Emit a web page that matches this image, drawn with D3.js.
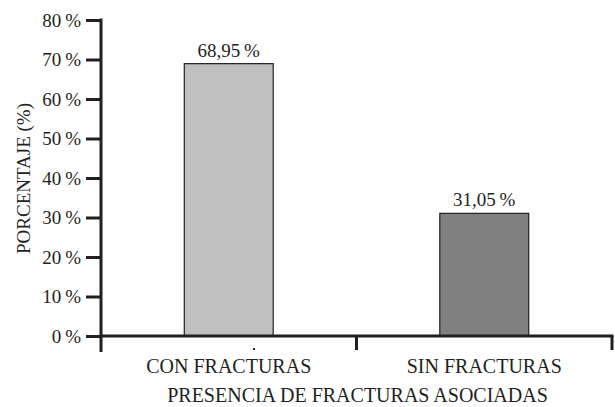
<!DOCTYPE html>
<html>
<head>
<meta charset="utf-8">
<script src="https://cdn.jsdelivr.net/npm/d3@7"></script>
<style>
  html, body { margin: 0; padding: 0; background: #fff; }
  svg { display: block; }
  text { font-family: "Liberation Serif", "Times New Roman", serif; fill: #231f20; }
</style>
</head>
<body>
<svg id="chart" width="615" height="407"></svg>
<script>
// Share of cases by presence of associated fractures
const categories = ["CON FRACTURAS", "SIN FRACTURAS"];
const percentages = [68.95, 31.05];
const barColors = ["#c0c0c0", "#808080"];
const yTicks = [0, 10, 20, 30, 40, 50, 60, 70, 80];
const yTitle = "PORCENTAJE (%)";
const xTitle = "PRESENCIA DE FRACTURAS ASOCIADAS";

const ink = "#231f20";
const fs = 19;
const fsLabel = 20;
const fmtPct = v => d3.format(".2f")(v).replace(".", ",") + "\u2009%";

const svg = d3.select("#chart");
const plotLeft = 101, plotRight = 612, plotTop = 20, plotBottom = 336;

const x = d3.scaleBand().domain(categories).range([plotLeft, plotRight]).padding(0);
const y = d3.scaleLinear().domain([0, 80]).range([plotBottom, plotTop]);

// Bars, centred in each band
const barW = x.bandwidth() * 0.348;
svg.append("g").selectAll("rect")
  .data(categories)
  .join("rect")
  .attr("x", (d) => x(d) + (x.bandwidth() - barW) / 2)
  .attr("y", (d, i) => y(percentages[i]))
  .attr("width", barW)
  .attr("height", (d, i) => y(0) - y(percentages[i]))
  .attr("fill", (d, i) => barColors[i])
  .attr("stroke", ink)
  .attr("stroke-width", 1.2);

// Value labels above bars
svg.append("g").selectAll("text")
  .data(categories)
  .join("text")
  .attr("x", d => x(d) + x.bandwidth() / 2)
  .attr("y", (d, i) => y(percentages[i]) - 7)
  .attr("text-anchor", "middle")
  .attr("font-size", fs)
  .text((d, i) => fmtPct(percentages[i]));

// Y axis
const yAxis = svg.append("g")
  .attr("transform", `translate(${plotLeft},0)`)
  .call(d3.axisLeft(y).tickValues(yTicks).tickSize(15).tickPadding(5)
    .tickFormat(d => d + "\u2009%"));
yAxis.select(".domain").remove();
yAxis.selectAll(".tick line").attr("stroke", ink).attr("stroke-width", 3);
yAxis.selectAll(".tick text")
  .attr("font-family", "Liberation Serif, serif")
  .attr("font-size", fs).attr("fill", ink);
yAxis.append("line")
  .attr("x1", 0).attr("x2", 0)
  .attr("y1", plotTop - 1.5).attr("y2", plotBottom + 16)
  .attr("stroke", ink).attr("stroke-width", 3);

// X axis with ticks at band boundaries
const xAxis = svg.append("g");
xAxis.append("line")
  .attr("x1", plotLeft).attr("x2", plotRight + 1.5)
  .attr("y1", plotBottom).attr("y2", plotBottom)
  .attr("stroke", ink).attr("stroke-width", 3);
xAxis.selectAll("line.sep")
  .data(categories)
  .join("line")
  .attr("class", "sep")
  .attr("x1", d => x(d) + x.bandwidth())
  .attr("x2", d => x(d) + x.bandwidth())
  .attr("y1", plotBottom).attr("y2", plotBottom + 14)
  .attr("stroke", ink).attr("stroke-width", 3);
xAxis.selectAll("text")
  .data(categories)
  .join("text")
  .attr("x", d => x(d) + x.bandwidth() / 2)
  .attr("y", plotBottom + 37)
  .attr("text-anchor", "middle")
  .attr("font-size", fsLabel)
  .text(d => d);

// Small mark under the first category
svg.append("rect")
  .attr("x", x(categories[0]) + x.bandwidth() * 0.595)
  .attr("y", plotBottom + 12)
  .attr("width", 2).attr("height", 2)
  .attr("fill", ink);

// Axis titles
svg.append("text")
  .attr("x", plotLeft + (plotRight - plotLeft) / 2 + 1)
  .attr("y", 402)
  .attr("text-anchor", "middle")
  .attr("font-size", fsLabel)
  .text(xTitle);

svg.append("text")
  .attr("transform", `translate(30,${(95 + 262) / 2}) rotate(-90)`)
  .attr("text-anchor", "middle")
  .attr("font-size", fs)
  .text(yTitle);
</script>
</body>
</html>
